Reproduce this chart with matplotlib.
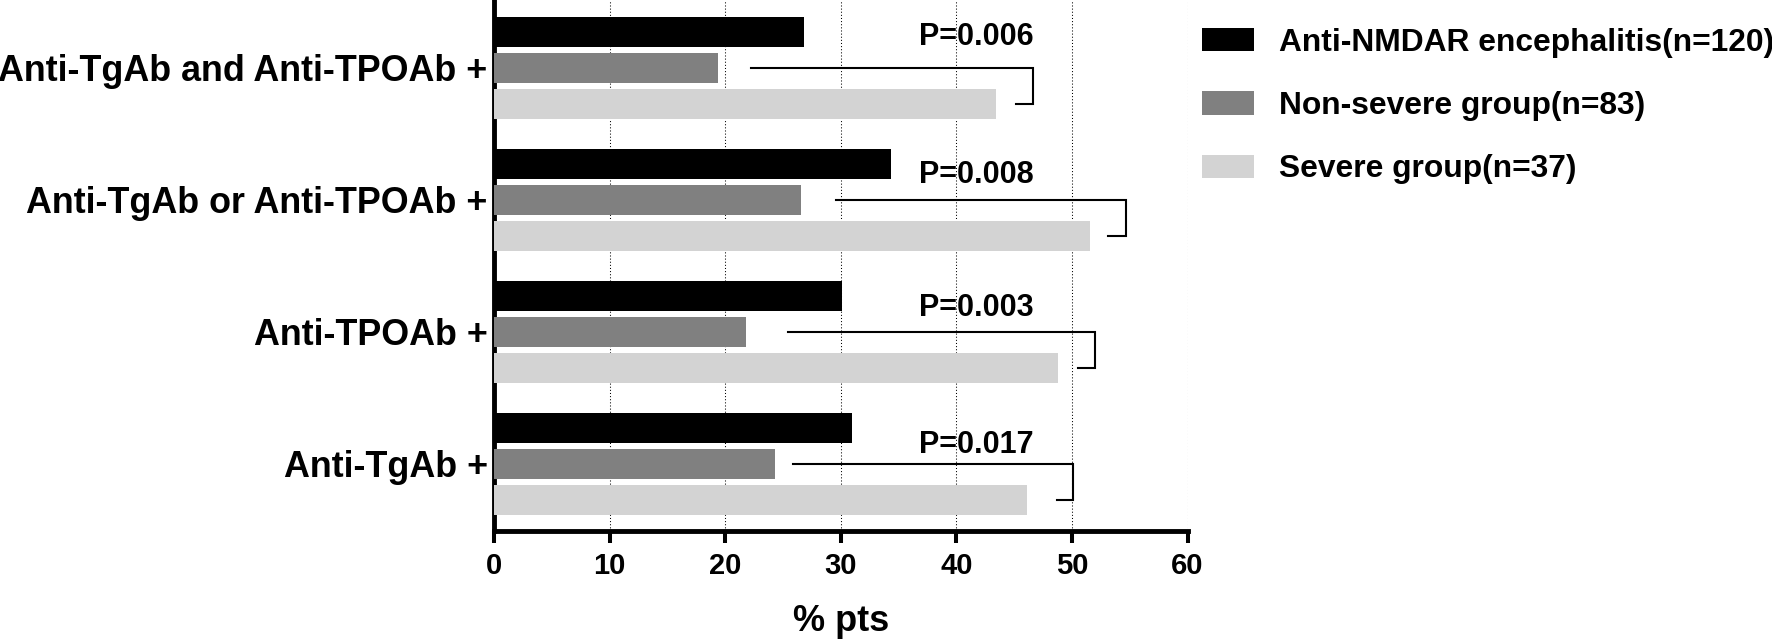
import matplotlib
matplotlib.use("Agg")
import matplotlib.pyplot as plt
from matplotlib.patches import Patch
import numpy as np

plt.rcParams['font.family'] = ['Liberation Sans', 'DejaVu Sans']
plt.rcParams['font.weight'] = 'bold'

# ---- data (bottom to top) ----
categories = ["Anti-TgAb +", "Anti-TPOAb +", "Anti-TgAb or Anti-TPOAb +",
              "Anti-TgAb and Anti-TPOAb +"]
series_names = ["Anti-NMDAR encephalitis(n=120)", "Non-severe group(n=83)",
                "Severe group(n=37)"]
all_patients = [31.0, 30.1, 34.3, 26.8]
non_severe = [24.3, 21.8, 26.6, 19.4]
severe = [46.1, 48.8, 51.6, 43.4]
p_values = ["P=0.017", "P=0.003", "P=0.008", "P=0.006"]
x_ticks = [0, 10, 20, 30, 40, 50, 60]

# bracket annotation extents (x in % pts)
bracket_start = [25.9, 25.4, 29.6, 22.2]
bracket_end = [50.1, 52.0, 54.65, 46.6]
bracket_back = [48.7, 50.5, 53.15, 45.15]
p_text_x = 41.75
p_baseline_offset = [0.189, 0.152, 0.142, 0.099]

colors = ["#000000", "#808080", "#D3D3D3"]

W, H = 1772, 642
fig = plt.figure(figsize=(W / 100, H / 100), dpi=100)
ax = fig.add_axes([494 / W, (H - 530.5) / H, (1187.6 - 494) / W, 530.5 / H])

y = np.arange(len(categories))
off = 0.273
bh = 0.227
ax.barh(y + off, all_patients, height=bh, color=colors[0], zorder=3)
ax.barh(y, non_severe, height=bh, color=colors[1], zorder=3)
ax.barh(y - off, severe, height=bh, color=colors[2], zorder=3)

for i in range(len(categories)):
    ax.plot([bracket_start[i], bracket_end[i], bracket_end[i], bracket_back[i]],
            [y[i], y[i], y[i] - off, y[i] - off], color='black', lw=1.5,
            solid_joinstyle='miter', zorder=4)
    ax.text(p_text_x, y[i] + off - p_baseline_offset[i], p_values[i],
            ha='center', va='baseline', fontsize=22, fontweight='bold', zorder=5)

ax.set_xlim(0, 60)
ax.set_ylim(-0.504, 3.515)
ax.set_xticks(x_ticks)
ax.set_xticklabels([str(t) for t in x_ticks], fontsize=21, fontweight='bold')
ax.set_yticks(y)
ax.set_yticklabels(categories, fontsize=25.8, fontweight='bold')
ax.tick_params(axis='y', length=0, pad=4.5)
ax.tick_params(axis='x', length=8.6, width=2.9, pad=7, direction='out')

for s in ['top', 'right']:
    ax.spines[s].set_visible(False)
for s in ['left', 'bottom']:
    ax.spines[s].set_linewidth(3.5)
    ax.spines[s].set_capstyle('projecting')

ax.grid(axis='x', color='black', linestyle=(0, (1, 2)), linewidth=0.75, zorder=0)
ax.set_axisbelow(True)

ax.set_xlabel("% pts", fontsize=26, fontweight='bold', labelpad=17.5)

handles = [Patch(facecolor=c, edgecolor='none') for c in colors]
leg = fig.legend(handles, series_names, loc='upper left',
                 bbox_to_anchor=(1202.3 / W, 1 - 27.5 / H),
                 bbox_transform=fig.transFigure, frameon=False,
                 prop={'size': 22.9, 'weight': 'bold'},
                 handlelength=1.635, handleheight=0.755, handletextpad=0.78,
                 labelspacing=1.05, borderpad=0, borderaxespad=0)

fig.savefig("out.png", dpi=100)
